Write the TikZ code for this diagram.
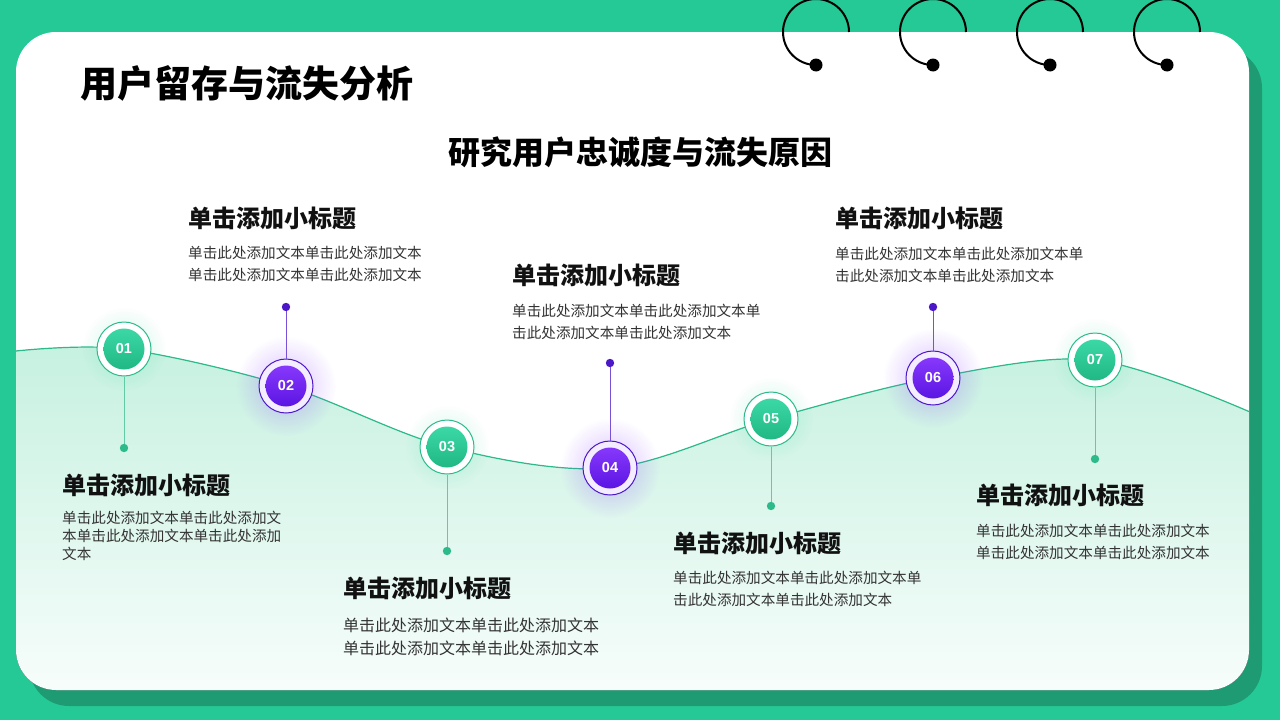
\documentclass[tikz,border=0pt]{standalone}
\usepackage{fontspec}
\newfontfamily\cjk{Noto Sans CJK SC}
\newfontfamily\numf{Liberation Sans}
\usetikzlibrary{fadings}
\definecolor{bggreen}{HTML}{25C995}
\definecolor{shadowgreen}{HTML}{1F9B74}
\definecolor{gA}{HTML}{3FDDAA}
\definecolor{gB}{HTML}{1CB380}
\definecolor{gline}{HTML}{2DBA8B}
\definecolor{pA}{HTML}{8E3DFF}
\definecolor{pB}{HTML}{5410DF}
\definecolor{pline}{HTML}{4B17C9}
\definecolor{pfill}{HTML}{F4ECFF}
\definecolor{wavetop}{HTML}{C6F1E0}
\definecolor{wavebot}{HTML}{F7FDFB}
\definecolor{titletext}{HTML}{111111}
\definecolor{bodytext}{HTML}{333333}
\tikzfading[name=glowfade, inner color=transparent!40, outer color=transparent!100]
\begin{document}
\begin{tikzpicture}[x=1pt,y=-1pt,
  gnode/.style={circle, minimum size=54pt, inner sep=0pt, draw=gline, line width=1pt, fill=white,
    text=white, font=\numf\bfseries\fontsize{14.5}{14.5}\selectfont,
    path picture={\shade[top color=gA, bottom color=gB] (path picture bounding box.center) circle (20.5pt);}},
  pnode/.style={circle, minimum size=54pt, inner sep=0pt, draw=pline, line width=1pt, fill=pfill,
    text=white, font=\numf\bfseries\fontsize{14.5}{14.5}\selectfont,
    path picture={\shade[top color=pA, bottom color=pB] (path picture bounding box.center) circle (20.5pt);}},
  gstem/.style={draw=gline!75, line width=1pt},
  pstem/.style={draw=pline!75, line width=1pt},
  gdot/.style={fill=gline},
  pdot/.style={fill=pline},
  subtitle/.style={anchor=west, inner sep=0pt, text=titletext, font=\cjk\bfseries\fontsize{24}{24}\selectfont},
  bodytxt/.style={anchor=north west, inner sep=0pt, align=left, text=bodytext, font=\cjk\fontsize{14.6}{22}\selectfont},
  ring/.style={draw=black, line width=2pt}
]
\useasboundingbox (0,0) rectangle (1280,720);
% background
\fill[bggreen] (0,0) rectangle (1280,720);
\fill[shadowgreen, rounded corners=40pt] (29,48) rectangle (1262,706);
\fill[white, rounded corners=40pt] (16,32) rectangle (1249,690);

% wave fill
\begin{scope}
\clip[rounded corners=40pt] (16,32) rectangle (1249,690);
\fill[top color=wavetop, bottom color=wavebot]
  plot[smooth, tension=0.55] coordinates {(16,351) (124,349) (286,386) (447,447) (610,468) (771,419) (933,378) (1095,360) (1250,412)}
  -- (1250,690) -- (16,690) -- cycle;
\draw[gline, line width=1.2pt]
  plot[smooth, tension=0.55] coordinates {(16,351) (124,349) (286,386) (447,447) (610,468) (771,419) (933,378) (1095,360) (1250,412)};
\end{scope}

% rings
\foreach \cx [count=\i] in {816,933,1050,1167}{
  \coordinate (rc\i) at (\cx,32);
  \draw[ring] (\cx+33,32) arc[start angle=0, end angle=-268, radius=33];
  \fill[black] (\cx,65) circle (6.5);
}

% titles
\node[anchor=west, inner sep=0pt, text=black, font=\cjk\bfseries\fontsize{37}{37}\selectfont] (title) at (80,83) {用户留存与流失分析};
\node[anchor=center, inner sep=0pt, text=black, font=\cjk\bfseries\fontsize{32}{32}\selectfont] (sub) at (640,152) {研究用户忠诚度与流失原因};

% node centres
\coordinate (c1) at (124,349);
\coordinate (c2) at (286,386);
\coordinate (c3) at (447,447);
\coordinate (c4) at (610,468);
\coordinate (c5) at (771,419);
\coordinate (c6) at (933,378);
\coordinate (c7) at (1095,360);

% glows
\foreach \k in {1,3,5,7}{\fill[gA, opacity=0.45, path fading=glowfade] (c\k) circle (42);}
\foreach \k in {2,4,6}{\fill[pA, opacity=0.55, path fading=glowfade] (c\k) circle (50);}

% dot ends
\coordinate (d1) at (124,448);
\coordinate (d2) at (286,307);
\coordinate (d3) at (447,551);
\coordinate (d4) at (610,363);
\coordinate (d5) at (771,506);
\coordinate (d6) at (933,307);
\coordinate (d7) at (1095,459);

% nodes
\node[gnode] (n1) at (c1) {01};
\node[pnode] (n2) at (c2) {02};
\node[gnode] (n3) at (c3) {03};
\node[pnode] (n4) at (c4) {04};
\node[gnode] (n5) at (c5) {05};
\node[pnode] (n6) at (c6) {06};
\node[gnode] (n7) at (c7) {07};

% stems
\draw[gstem] (n1) -- (d1);
\draw[pstem] (n2) -- (d2);
\draw[gstem] (n3) -- (d3);
\draw[pstem] (n4) -- (d4);
\draw[gstem] (n5) -- (d5);
\draw[pstem] (n6) -- (d6);
\draw[gstem] (n7) -- (d7);
\fill[gdot] (d1) circle (4.2);
\fill[pdot] (d2) circle (4.2);
\fill[gdot] (d3) circle (4.2);
\fill[pdot] (d4) circle (4.2);
\fill[gdot] (d5) circle (4.2);
\fill[pdot] (d6) circle (4.2);
\fill[gdot] (d7) circle (4.2);

% text blocks
\node[subtitle] (t1) at (62,485) {单击添加小标题};
\node[bodytxt, font=\cjk\fontsize{14.6}{17.6}\selectfont] (b1) at (62,511.4) {单击此处添加文本单击此处添加文\\本单击此处添加文本单击此处添加\\文本};
\node[subtitle] (t2) at (188,218) {单击添加小标题};
\node[bodytxt] (b2) at (188,246.4) {单击此处添加文本单击此处添加文本\\单击此处添加文本单击此处添加文本};
\node[subtitle] (t3) at (343,588) {单击添加小标题};
\node[bodytxt, font=\cjk\fontsize{16}{23}\selectfont] (b3) at (343,617.6) {单击此处添加文本单击此处添加文本\\单击此处添加文本单击此处添加文本};
\node[subtitle] (t4) at (512,275) {单击添加小标题};
\node[bodytxt] (b4) at (512,304.4) {单击此处添加文本单击此处添加文本单\\击此处添加文本单击此处添加文本};
\node[subtitle] (t5) at (673,543) {单击添加小标题};
\node[bodytxt] (b5) at (673,571.4) {单击此处添加文本单击此处添加文本单\\击此处添加文本单击此处添加文本};
\node[subtitle] (t6) at (835,218) {单击添加小标题};
\node[bodytxt] (b6) at (835,247.4) {单击此处添加文本单击此处添加文本单\\击此处添加文本单击此处添加文本};
\node[subtitle] (t7) at (976,495) {单击添加小标题};
\node[bodytxt] (b7) at (976,524.4) {单击此处添加文本单击此处添加文本\\单击此处添加文本单击此处添加文本};
\end{tikzpicture}
\end{document}
